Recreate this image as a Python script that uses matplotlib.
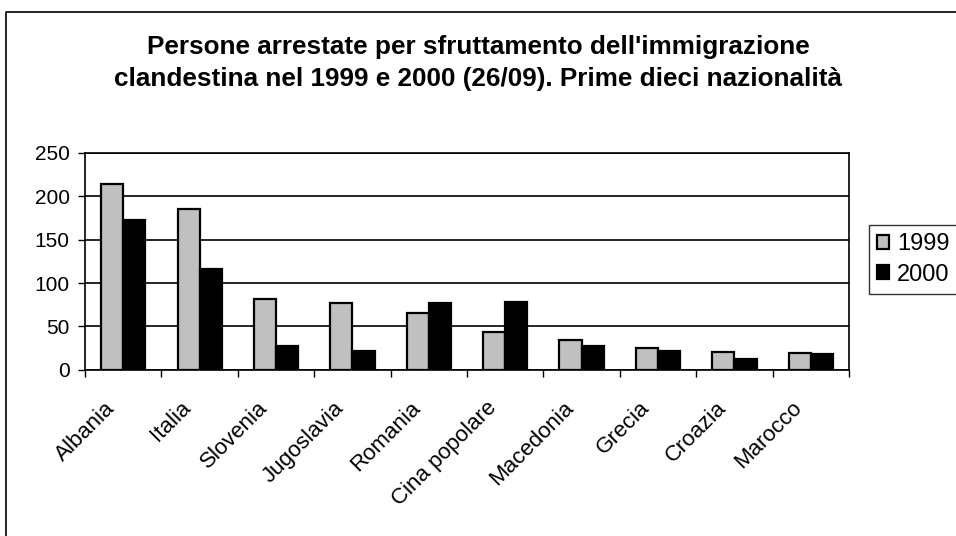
import matplotlib.pyplot as plt
import numpy as np
from matplotlib.lines import Line2D
from matplotlib.transforms import ScaledTranslation

plt.rcParams['font.family'] = ['Liberation Sans', 'DejaVu Sans']

paesi = ['Albania', 'Italia', 'Slovenia', 'Jugoslavia', 'Romania',
         'Cina popolare', 'Macedonia', 'Grecia', 'Croazia', 'Marocco']
arresti_1999 = [214, 185, 82, 77, 65, 44, 34, 25, 21, 19]
arresti_2000 = [173, 116, 28, 22, 77, 78, 28, 22, 13, 18]

fig = plt.figure(figsize=(9.56, 5.36), dpi=100)
ax = fig.add_axes([0.089, 0.310, 0.799, 0.405])

x = np.arange(len(paesi))
w = 0.29
ax.bar(x - w / 2, arresti_1999, w, color='#c0c0c0', edgecolor='black',
       linewidth=1.6, label='1999', zorder=3)
ax.bar(x + w / 2, arresti_2000, w, color='black', edgecolor='black',
       linewidth=1.6, label='2000', zorder=3)

ax.set_xlim(-0.5, len(paesi) - 0.5)
ax.set_ylim(0, 250)
ax.set_yticks(range(0, 251, 50))
ax.yaxis.grid(True, color='black', linewidth=1.2, zorder=0)
ax.set_xticks(x)
ax.set_xticklabels(paesi, rotation=45, ha='right', va='top',
                   rotation_mode='anchor', fontsize=16)
ax.tick_params(axis='x', length=0, pad=20)
# sposta le etichette un po' a sinistra
for lab in ax.get_xticklabels():
    lab.set_transform(lab.get_transform() + ScaledTranslation(-19 / 100, 0, fig.dpi_scale_trans))
# tacche tra le categorie
ax.set_xticks(np.arange(-0.5, len(paesi), 1.0), minor=True)
ax.tick_params(axis='x', which='minor', length=5, width=1, direction='out')
ax.tick_params(axis='y', labelsize=15, length=5, width=1, direction='out', pad=6)
for s in ax.spines.values():
    s.set_linewidth(1.2)

ax.legend(loc='upper left', bbox_to_anchor=(1.0257, 0.667), fontsize=17,
          frameon=True, fancybox=False, edgecolor='black', handlelength=0.5,
          handleheight=0.5, handletextpad=0.35, borderpad=0.35,
          labelspacing=0.35, borderaxespad=0)

fig.text(0.5, 0.912, "Persone arrestate per sfruttamento dell'immigrazione",
         ha='center', va='center', fontsize=18.8, fontweight='bold')
fig.text(0.5, 0.852, "clandestina nel 1999 e 2000 (26/09). Prime dieci nazionalità",
         ha='center', va='center', fontsize=18.8, fontweight='bold')

# bordo del grafico (solo sinistra e in alto, come nell'originale ritagliato)
fig.add_artist(Line2D([0.006, 0.006, 1.0], [0.0, 0.978, 0.978],
                      transform=fig.transFigure, color='black', linewidth=1.2))

fig.savefig('out.png', dpi=100)
